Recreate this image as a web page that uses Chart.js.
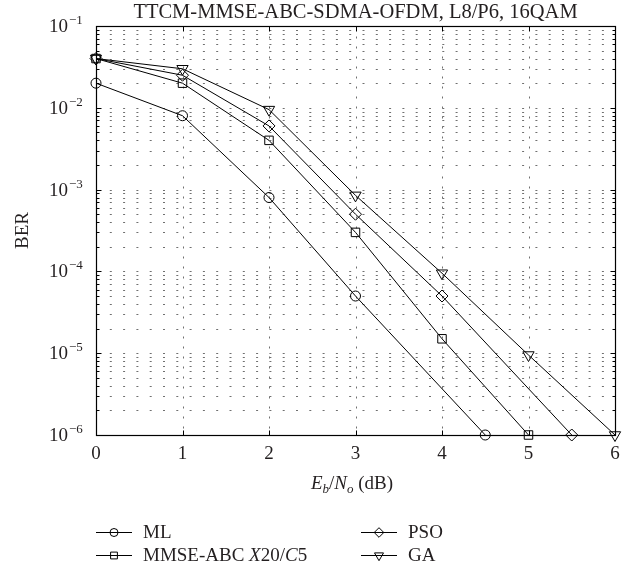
<!DOCTYPE html>
<html>
<head>
<meta charset="utf-8">
<script src="https://cdn.jsdelivr.net/npm/chart.js@4.4.1/dist/chart.umd.min.js"></script>
<style>
  body { margin: 0; background: #fff; }
  canvas { display: block; }
</style>
</head>
<body>
<canvas id="berChart" width="640" height="575"></canvas>
<script>
// BER values (log scale)
const snrML = [0, 1, 2, 3, 4.5];
const berML = [2e-2, 8e-3, 8e-4, 5e-5, 1e-6];
const snrMMSE = [0, 1, 2, 3, 4, 5];
const berMMSE = [4e-2, 2e-2, 4e-3, 3e-4, 1.5e-5, 1e-6];
const snrPSO = [0, 1, 2, 3, 4, 5.5];
const berPSO = [4e-2, 2.5e-2, 6e-3, 5e-4, 5e-5, 1e-6];
const snrGA = [0, 1, 2, 3, 4, 5, 6];
const berGA = [4e-2, 3e-2, 9.5e-3, 8.5e-4, 9.5e-5, 9.5e-6, 1e-6];

const xTicks = [0, 1, 2, 3, 4, 5, 6];
const yDecades = [-6, -5, -4, -3, -2, -1];
const yMantissas = [1, 2, 3, 4, 5, 6, 7, 8, 9];

const titleText = 'TTCM-MMSE-ABC-SDMA-OFDM, L8/P6, 16QAM';

const serif = "'Liberation Serif', 'Times New Roman', serif";
const ink = '#231f20';

// log ticks 1..9 x 10^n, last one 10^-1
const yTickVals = [];
yDecades.forEach(function (e, k) {
  yMantissas.forEach(function (m) {
    if (k < yDecades.length - 1 || m === 1) yTickVals.push(m * Math.pow(10, e));
  });
});

function pts(xs, ys) {
  return xs.map(function (x, i) { return { x: x, y: ys[i] }; });
}

function fontOf(p) {
  return (p.i ? 'italic ' : '') + (p.s || 19) + 'px ' + serif;
}

function drawRich(ctx, parts, x, y, align) {
  let w = 0;
  parts.forEach(function (p) { ctx.font = fontOf(p); p.w = ctx.measureText(p.t).width; w += p.w; });
  let cx = align === 'center' ? x - w / 2 : x;
  parts.forEach(function (p) {
    ctx.font = fontOf(p);
    ctx.fillText(p.t, cx, y + (p.dy || 0));
    cx += p.w;
  });
}

const lineStyle = {
  borderColor: '#000',
  borderWidth: 1,
  pointBorderColor: '#000',
  pointBackgroundColor: 'rgba(0,0,0,0)',
  pointBorderWidth: 1,
  tension: 0,
  fill: false,
  clip: false
};

// legend text with italic parts
const legendText = [
  [{ t: 'ML' }],
  [{ t: 'MMSE-ABC ' }, { t: 'X', i: true }, { t: '20/' }, { t: 'C', i: true }, { t: '5' }],
  [{ t: 'PSO' }],
  [{ t: 'GA' }]
];
const legendSlots = [[96, 532], [96, 555], [361, 532], [361, 555]];

const axesDecor = {
  id: 'axesDecor',
  beforeDatasetsDraw(chart) {
    const ctx = chart.ctx, a = chart.chartArea, xs = chart.scales.x, ys = chart.scales.y;
    const L = Math.round(a.left) + 0.5, R = Math.round(a.right) + 0.5;
    const T = Math.round(a.top) + 0.5, B = Math.round(a.bottom) + 0.5;
    ctx.save();
    ctx.lineWidth = 1;
    ctx.strokeStyle = '#707070';
    // dotted grid
    ctx.setLineDash([2, 11.3]);
    yTickVals.forEach(function (v) {
      const py = Math.round(ys.getPixelForValue(v)) + 0.5;
      if (py <= T + 1 || py >= B - 1) return;
      ctx.beginPath(); ctx.moveTo(L, py); ctx.lineTo(R, py); ctx.stroke();
    });
    ctx.setLineDash([2, 8]);
    xTicks.forEach(function (v) {
      const px = Math.round(xs.getPixelForValue(v)) + 0.5;
      if (px <= L + 1 || px >= R - 1) return;
      ctx.beginPath(); ctx.moveTo(px, T); ctx.lineTo(px, B); ctx.stroke();
    });
    ctx.setLineDash([]);
    // inward tick marks
    ctx.strokeStyle = '#000';
    yTickVals.forEach(function (v, i) {
      const py = Math.round(ys.getPixelForValue(v)) + 0.5;
      const len = (i % 9 === 0) ? 5 : 3;
      ctx.beginPath();
      ctx.moveTo(L, py); ctx.lineTo(L + len, py);
      ctx.moveTo(R, py); ctx.lineTo(R - len, py);
      ctx.stroke();
    });
    xTicks.forEach(function (v) {
      const px = Math.round(xs.getPixelForValue(v)) + 0.5;
      ctx.beginPath();
      ctx.moveTo(px, B); ctx.lineTo(px, B - 5);
      ctx.moveTo(px, T); ctx.lineTo(px, T + 5);
      ctx.stroke();
    });
    // box
    ctx.lineWidth = 1.2;
    ctx.strokeRect(L, T, R - L, B - T);
    ctx.restore();
  },
  afterDraw(chart) {
    const ctx = chart.ctx, a = chart.chartArea, ys = chart.scales.y;
    ctx.save();
    ctx.fillStyle = ink;

    // title, centred over the plot box
    ctx.font = '20.5px ' + serif;
    ctx.textAlign = 'center';
    ctx.textBaseline = 'alphabetic';
    ctx.fillText(titleText, (a.left + a.right) / 2, 18);

    // y tick labels 10^n
    yDecades.forEach(function (e) {
      const py = ys.getPixelForValue(Math.pow(10, e));
      ctx.font = '19px ' + serif;
      ctx.textAlign = 'right';
      ctx.fillText('10', 68, py + 6);
      ctx.font = '13px ' + serif;
      ctx.textAlign = 'left';
      ctx.fillText('\u2212' + Math.abs(e), 69, py - 2);
    });

    // x axis title
    ctx.textAlign = 'left';
    drawRich(ctx, [
      { t: 'E', i: true }, { t: 'b', i: true, s: 13, dy: 4 }, { t: '/' },
      { t: 'N', i: true }, { t: 'o', i: true, s: 13, dy: 4 }, { t: ' (dB)' }
    ], 352, 489, 'center');

    // legend
    chart.data.datasets.forEach(function (ds, i) {
      const x0 = legendSlots[i][0], y0 = legendSlots[i][1];
      ctx.strokeStyle = '#000';
      ctx.lineWidth = 1;
      ctx.beginPath(); ctx.moveTo(x0, y0 + 0.5); ctx.lineTo(x0 + 36, y0 + 0.5); ctx.stroke();
      ctx.fillStyle = 'rgba(0,0,0,0)';
      Chart.helpers.drawPoint(ctx, {
        pointStyle: ds.pointStyle,
        rotation: ds.pointRotation || 0,
        radius: ds.pointRadius * 0.8,
        borderWidth: 1
      }, x0 + 18, y0 + 0.5);
      ctx.fillStyle = ink;
      ctx.textBaseline = 'middle';
      drawRich(ctx, legendText[i], x0 + 47, y0 + 1, 'left');
    });
    ctx.restore();
  }
};

new Chart(document.getElementById('berChart').getContext('2d'), {
  type: 'line',
  data: {
    datasets: [
      Object.assign({ label: 'ML', data: pts(snrML, berML), pointStyle: 'circle', pointRadius: 5 }, lineStyle),
      Object.assign({ label: 'MMSE-ABC X20/C5', data: pts(snrMMSE, berMMSE), pointStyle: 'rect', pointRadius: 6 }, lineStyle),
      Object.assign({ label: 'PSO', data: pts(snrPSO, berPSO), pointStyle: 'rectRot', pointRadius: 6 }, lineStyle),
      Object.assign({ label: 'GA', data: pts(snrGA, berGA), pointStyle: 'triangle', pointRadius: 6.5, pointRotation: 180 }, lineStyle)
    ]
  },
  options: {
    responsive: false,
    animation: false,
    devicePixelRatio: 1,
    layout: { padding: { top: 26, left: 0, right: 25, bottom: 0 } },
    plugins: {
      legend: { display: false },
      tooltip: { enabled: false },
      title: { display: false }
    },
    scales: {
      x: {
        type: 'linear',
        min: 0,
        max: 6,
        ticks: { stepSize: 1, color: ink, font: { family: serif, size: 19 }, padding: 8, maxRotation: 0 },
        grid: { display: false, drawTicks: false },
        border: { display: false },
        afterFit: function (s) { s.height = 140; }
      },
      y: {
        type: 'logarithmic',
        min: 1e-6,
        max: 1e-1,
        afterBuildTicks: function (s) { s.ticks = yTickVals.map(function (v) { return { value: v }; }); },
        ticks: { display: false },
        grid: { display: false, drawTicks: false },
        border: { display: false },
        title: { display: true, text: 'BER', color: ink, font: { family: serif, size: 19 }, padding: { top: 12, bottom: 0 } },
        afterFit: function (s) { s.width = 96; }
      }
    }
  },
  plugins: [axesDecor]
});
</script>
</body>
</html>
